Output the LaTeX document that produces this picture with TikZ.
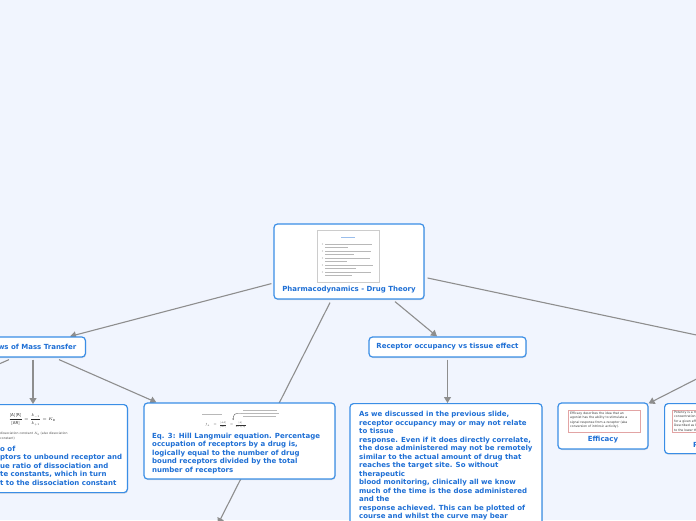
\RequirePackage{fix-cm}
\documentclass[tikz,border=0pt]{standalone}
\usepackage{fontspec}
\setmainfont{DejaVu Sans}
\usetikzlibrary{arrows.meta,calc,shadows}
\pgfdeclarelayer{back}
\pgfdeclarelayer{edges}
\pgfsetlayers{back,edges,main}
\definecolor{bgc}{HTML}{F1F5FE}
\definecolor{nodeborder}{HTML}{3A8EE6}
\definecolor{nodetext}{HTML}{1E6FD5}
\definecolor{linec}{HTML}{8E8E8E}
\definecolor{imgline}{HTML}{B8B8B8}
\definecolor{pinkb}{HTML}{E2A4A4}
\begin{document}
\begin{tikzpicture}[x=1pt,y=-1pt,
  mmbox/.style={draw=nodeborder,line width=1.2pt,rounded corners=3.5pt,fill=white,inner sep=0pt,
     drop shadow={shadow xshift=0.6pt,shadow yshift=-1pt,opacity=0.25,fill=gray}},
  lbl/.style={text=nodetext,font=\fontsize{7}{8.5}\selectfont\bfseries,inner sep=0pt},
  para/.style={lbl,align=left,anchor=north west},
  conn/.style={draw=linec,line width=1.1pt,-{Triangle[length=6pt,width=7pt]}},
  plainline/.style={draw=linec,line width=1.1pt},
  img/.style={draw=#1,line width=0.4pt,fill=white,inner sep=0pt},
  bar/.style={draw=imgline,line width=0.6pt},
  tinytxt/.style={font=\fontsize{3.1}{4.5}\selectfont,text=black!80,inner sep=0pt,align=left,anchor=north west},
]
\begin{pgfonlayer}{back}
\fill[bgc] (0,0) rectangle (696,520);
\end{pgfonlayer}
\useasboundingbox (0,0) rectangle (696,520);

% ---------- centre node
\node[mmbox,minimum width=150pt,minimum height=75pt] (c) at (349,261.5) {};
\node[img=black!20,minimum width=62pt,minimum height=52pt] (cimg) at (348,256.5) {};
\draw[draw=nodetext!45,line width=1pt] (341,237.5) -- (355,237.5);
\foreach \yy/\la/\lb in {244/372/348,251/371/354,258/370/347,265/373/356,272/371/352}{
  \fill[imgline] (322.5,\yy) circle (0.6);
  \draw[bar] (325,\yy) -- (\la,\yy);
  \draw[bar] (325,\yy+3) -- (\lb,\yy+3);
}
\node[lbl] (ct) at (349,289.5) {Pharmacodynamics - Drug Theory};

% ---------- laws of mass transfer
\node[mmbox,lbl,anchor=east,minimum height=20pt,inner xsep=9pt] (mt) at (86,347) {Laws of Mass Transfer};

% ---------- eq2 node
\node[mmbox,anchor=north east,minimum width=200pt,minimum height=88pt] (eq2) at (128,404) {};
\node[inner sep=0pt,font=\fontsize{4}{4}\selectfont,text=black!85] (eq2m) at (32,420)
  {$\displaystyle\frac{[\mathrm{A}][\mathrm{R}]}{[\mathrm{AR}]}=\frac{k_{-1}}{k_{+1}}=K_{\mathrm{D}}$};
\node[tinytxt,text=black!70] (eq2s) at (0,432) {dissociation constant $K_{\mathrm{D}}$ (also dissociation\\constant)};
\node[para] (eq2t) at (0,445.5) {o of\\ptors to unbound receptor and\\ue ratio of dissociation and\\te constants, which in turn\\t to the dissociation constant};

% ---------- eq3 node
\node[mmbox,minimum width=191pt,minimum height=76pt] (eq3) at (239.5,441) {};
\draw[bar,line width=0.5pt] (202,414) -- (222,414);
\draw[bar,line width=0.5pt] (243,410.5) -- (277,410.5);
\draw[bar,line width=0.5pt] (241,413.5) -- (279,413.5);
\draw[bar,line width=0.5pt] (243,416.5) -- (276,416.5);
\draw[black!70,line width=0.35pt,-{Stealth[length=1.5pt,width=1.5pt]}] (241,413.5) .. controls (234,413.5) .. (233,420);
\node[inner sep=0pt,font=\fontsize{3}{3}\selectfont,text=black!80] (eq3m) at (226,425)
  {$f_{A}\;\;=\;\frac{[AR]}{[R_T]}\;=\frac{[A]}{K_d+[A]}$};
\node[para] (eq3t) at (152,432.5) {Eq. 3: Hill Langmuir equation. Percentage\\occupation of receptors by a drug is,\\logically equal to the number of drug\\bound receptors divided by the total\\number of receptors};

% ---------- receptor occupancy
\node[mmbox,lbl,minimum width=157pt,minimum height=20pt] (ro) at (447.5,347) {Receptor occupancy vs tissue effect};

% ---------- big text node
\node[mmbox,anchor=north,minimum width=192pt,minimum height=160pt] (big) at (446,403) {};
\node[para] (bigt) at (359,411) {As we discussed in the previous slide,\\receptor occupancy may or may not relate\\to tissue\\response. Even if it does directly correlate,\\the dose administered may not be remotely\\similar to the actual amount of drug that\\reaches the target site. So without\\therapeutic\\blood monitoring, clinically all we know\\much of the time is the dose administered\\and the\\response achieved. This can be plotted of\\course and whilst the curve may bear};

% ---------- efficacy
\node[mmbox,minimum width=90pt,minimum height=46pt] (eff) at (603,426) {};
\node[img=pinkb,minimum width=72pt,minimum height=22pt] (effimg) at (604,421) {};
\node[tinytxt] (efft) at (570,411.5) {Efficacy describes the idea that an\\agonist has the ability to stimulate a\\signal response from a receptor (aka\\conversion of intrinsic activity).};
\node[lbl] (effl) at (603,439.5) {Efficacy};

% ---------- potency (clipped at right edge)
\node[mmbox,anchor=north west,minimum width=100pt,minimum height=50pt] (pot) at (664,403) {};
\node[img=pinkb,anchor=north west,minimum width=80pt,minimum height=22pt] (potimg) at (672,409.5) {};
\node[tinytxt] (pott) at (674,410.5) {Potency is a measure of the\\concentration of drug needed\\for a given effect. Potency\\Described as EC50 or ED50\\to the lower the value};
\node[lbl,anchor=west] (potl) at (693,446) {Potency};

% ---------- connectors
\coordinate (offb) at (218,524);
\coordinate (offr1) at (720,340);
\coordinate (offr2) at (720,367);
\coordinate (offl) at (-10,368);
\begin{pgfonlayer}{edges}
\draw[conn] ($(c.south west)+(-2,-16)$) -- ($(mt.north east)+(-16,0)$);
\draw[conn] ($(c.south)+(-19,3)$) -- (offb);
\draw[conn] ($(c.south)+(46,2)$) -- ($(ro.north)+(-10.5,0)$);
\draw[plainline] ($(c.east)+(3,16.5)$) -- (offr1);
\draw[conn] ($(mt.south east)+(-53,2)$) -- ($(eq2.north east)+(-95,0)$);
\draw[conn] ($(mt.south east)+(-27,2)$) -- ($(eq3.north west)+(13,0)$);
\draw[plainline] ($(mt.south east)+(-77,2)$) -- (offl);
\draw[conn] ($(ro.south)+(0,2)$) -- ($(big.north)+(1.5,0)$);
\draw[conn] (offr2) -- ($(eff.north east)+(0,1)$);
\end{pgfonlayer}
\end{tikzpicture}
\end{document}
